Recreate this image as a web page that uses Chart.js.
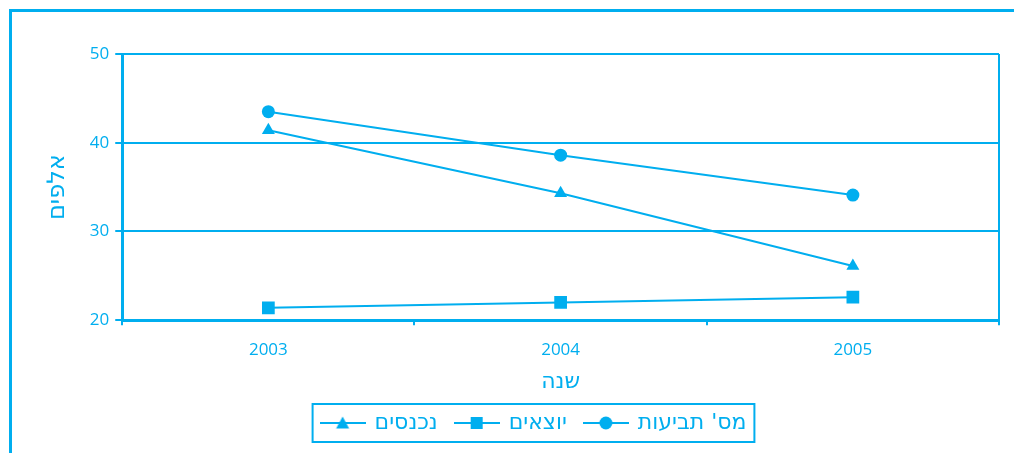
<!DOCTYPE html>
<html lang="he">
<head>
<meta charset="utf-8">
<title>תביעות לפי שנה</title>
<script src="https://cdn.jsdelivr.net/npm/chart.js@4.4.1/dist/chart.umd.min.js"></script>
<style>
  html, body { margin: 0; padding: 0; background: #fff; }
  #wrap { position: relative; width: 1014px; height: 453px; overflow: hidden; }
  /* outer frame: only the top and left edges fall inside the picture */
  #frame { position: absolute; left: 9px; top: 9px; width: 1100px; height: 600px;
           border-left: 3px solid #00AEEF; border-top: 3px solid #00AEEF; box-sizing: border-box; }
  #chart { position: absolute; left: 0; top: 0; }
</style>
</head>
<body>
<div id="wrap">
  <div id="frame"></div>
  <canvas id="chart" width="1014" height="453"></canvas>
</div>
<script>
// Data
const years = ['2003', '2004', '2005'];
const claims = [43.5, 38.6, 34.1];     // מס' תביעות
const outgoing = [21.4, 22.0, 22.6];   // יוצאים
const incoming = [41.4, 34.3, 26.1];   // נכנסים
const yTicks = [20, 30, 40, 50];

const CYAN = '#00AEEF';
const FONT = "'Open Sans', 'DejaVu Sans', sans-serif";
const HEB_FONT = "'DejaVu Sans', sans-serif";
const LEGEND_SHIFT = 13; // legend sits a little right of centre in the original

/**
 * Build a small legend swatch: a short line with the marker in the middle
 */
function makeSwatch(style) {
  const c = document.createElement('canvas');
  c.width = 46;
  c.height = 16;
  const g = c.getContext('2d');
  g.strokeStyle = CYAN;
  g.fillStyle = CYAN;
  g.lineWidth = 2;
  g.beginPath();
  g.moveTo(0, 8);
  g.lineTo(46, 8);
  g.stroke();
  g.beginPath();
  if (style === 'circle') {
    g.arc(23, 8, 6.5, 0, Math.PI * 2);
  } else if (style === 'rect') {
    g.rect(17, 2, 12, 12);
  } else {
    g.moveTo(23, 1.5);
    g.lineTo(29.5, 13.5);
    g.lineTo(16.5, 13.5);
    g.closePath();
  }
  g.fill();
  return c;
}

// Draws the right edge of the plot and the box round the legend
const framePlugin = {
  id: 'frameLines',
  afterLayout(chart) {
    const lg = chart.legend;
    lg.left += LEGEND_SHIFT;
    lg.right += LEGEND_SHIFT;
    (lg.legendHitBoxes || []).forEach(b => { b.left += LEGEND_SHIFT; });
  },
  afterDraw(chart) {
    const ctx = chart.ctx;
    const a = chart.chartArea;
    ctx.save();
    ctx.strokeStyle = CYAN;
    ctx.lineWidth = 2;
    ctx.beginPath();
    ctx.moveTo(a.right, a.top);
    ctx.lineTo(a.right, a.bottom);
    ctx.stroke();

    const boxes = chart.legend.legendHitBoxes;
    if (boxes && boxes.length) {
      const l = Math.min(...boxes.map(b => b.left)) - 9;
      const r = Math.max(...boxes.map(b => b.left + b.width)) + 8;
      const t = Math.min(...boxes.map(b => b.top)) - 8;
      const btm = Math.max(...boxes.map(b => b.top + b.height)) + 8;
      ctx.lineWidth = 2;
      ctx.strokeRect(l, t, r - l, btm - t);
    }
    ctx.restore();
  }
};

function lineSet(label, data, style, radius) {
  return {
    label: label,
    data: data,
    borderColor: CYAN,
    backgroundColor: CYAN,
    borderWidth: 2,
    pointStyle: style,
    pointRadius: radius,
    pointHoverRadius: radius,
    pointBorderWidth: 0,
    tension: 0,
    fill: false,
    swatch: makeSwatch(style)
  };
}

const ctx = document.getElementById('chart').getContext('2d');
Chart.defaults.color = CYAN;
Chart.defaults.font.family = FONT;

new Chart(ctx, {
  type: 'line',
  data: {
    labels: years,
    datasets: [
      lineSet("מס' תביעות", claims, 'circle', 6.5),
      lineSet('יוצאים', outgoing, 'rect', 9),
      lineSet('נכנסים', incoming, 'triangle', 7.5)
    ]
  },
  plugins: [framePlugin],
  options: {
    responsive: false,
    animation: false,
    layout: {
      padding: { left: 43, right: 15, top: 54, bottom: 9 }
    },
    scales: {
      x: {
        type: 'category',
        offset: true,
        grid: {
          offset: true,
          drawOnChartArea: false,
          color: CYAN,
          lineWidth: 2,
          tickLength: 5
        },
        border: { color: CYAN, width: 3 },
        ticks: { color: CYAN, font: { size: 17 }, padding: 15 },
        title: {
          display: true,
          text: 'שנה',
          color: CYAN,
          font: { family: HEB_FONT, size: 22 },
          padding: { top: -7, bottom: -1 }
        }
      },
      y: {
        min: 20,
        max: 50,
        afterBuildTicks(scale) {
          scale.ticks = yTicks.map(v => ({ value: v }));
        },
        grid: {
          color: CYAN,
          lineWidth: 2,
          tickLength: 7
        },
        border: { color: CYAN, width: 3 },
        ticks: { color: CYAN, font: { size: 17 }, padding: 6 },
        title: {
          display: true,
          text: 'אלפים',
          color: CYAN,
          font: { family: HEB_FONT, size: 24 },
          padding: { top: 0, bottom: 12 }
        }
      }
    },
    plugins: {
      legend: {
        position: 'bottom',
        reverse: true,
        labels: {
          color: CYAN,
          font: { family: HEB_FONT, size: 22 },
          usePointStyle: true,
          pointStyleWidth: 42,
          padding: 18,
          generateLabels(chart) {
            return chart.data.datasets.map((ds, i) => ({
              text: ds.label,
              fillStyle: CYAN,
              strokeStyle: CYAN,
              fontColor: CYAN,
              lineWidth: 0,
              pointStyle: ds.swatch,
              hidden: false,
              datasetIndex: i
            }));
          }
        }
      },
      tooltip: { enabled: false }
    }
  }
});
</script>
</body>
</html>
